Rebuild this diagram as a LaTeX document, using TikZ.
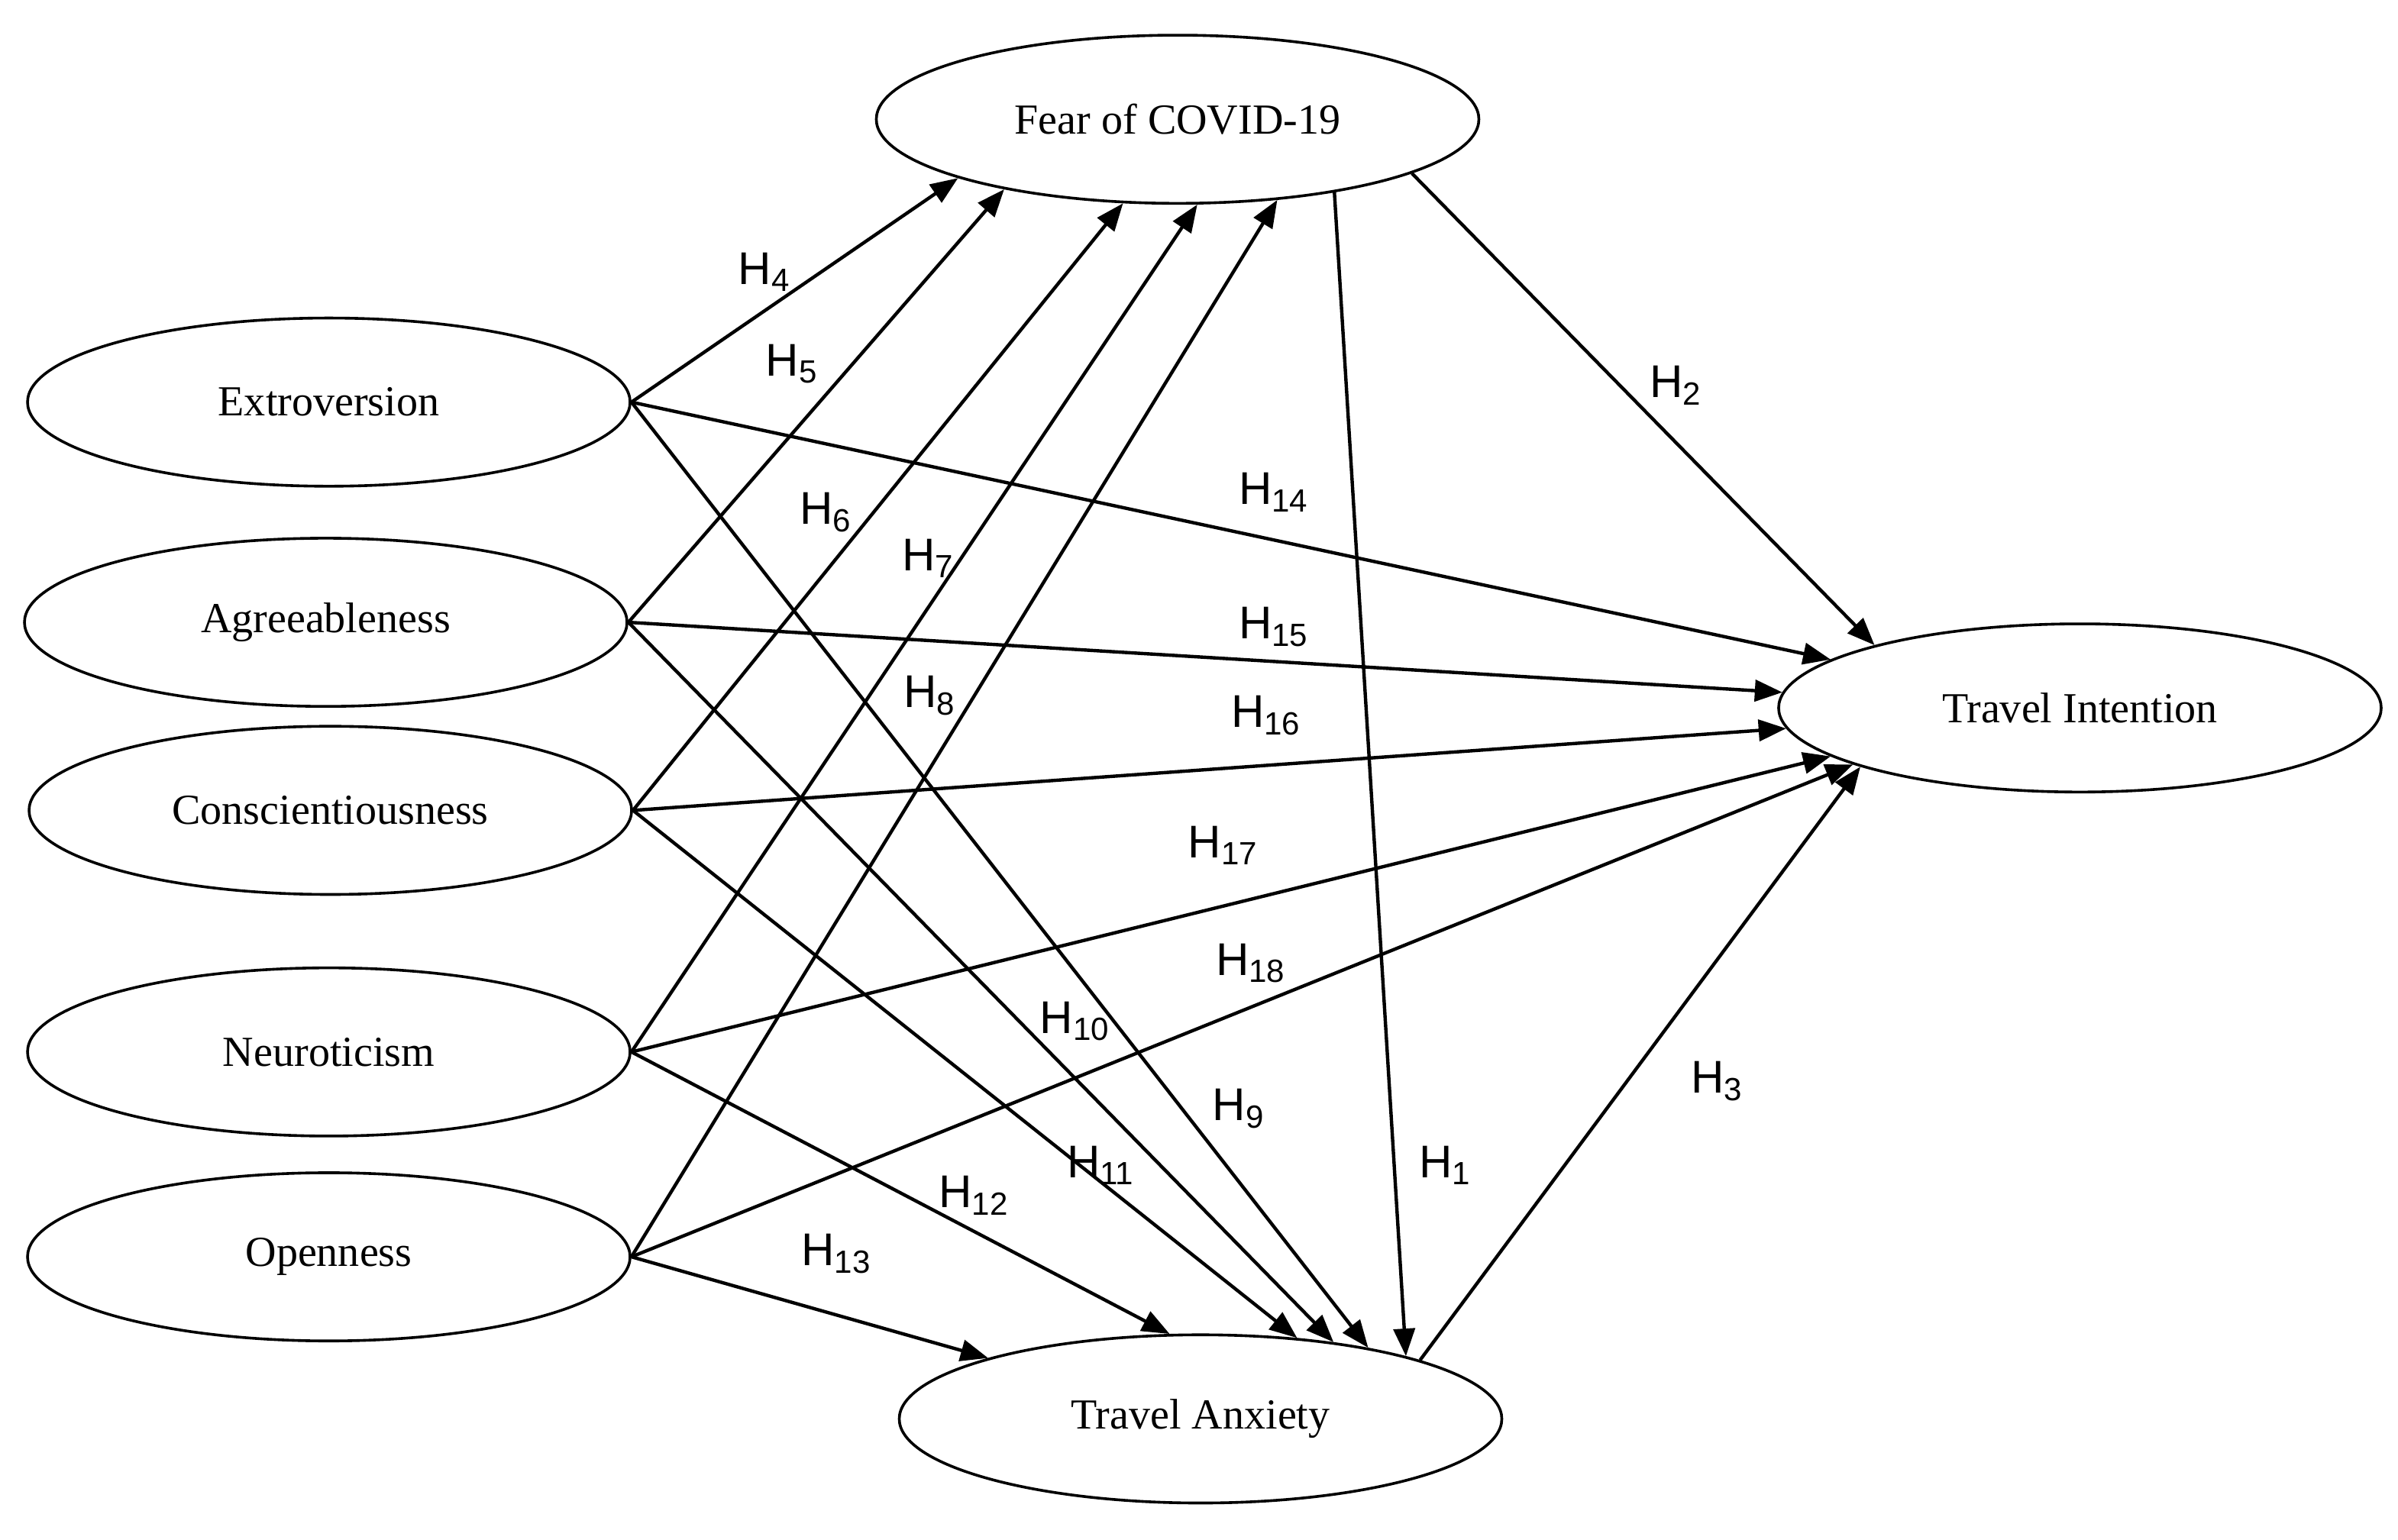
\documentclass[tikz,border=0pt]{standalone}
\usepackage{fontspec}
\setmainfont{Liberation Serif}
\newfontfamily\hsans{Liberation Sans}
\usetikzlibrary{shapes.geometric,arrows.meta}
\begin{document}
\begin{tikzpicture}[x=0.5pt,y=-0.5pt,
  var/.style={ellipse,draw,line width=0.9pt,minimum width=197pt,minimum height=55pt,inner sep=0pt,font=\fontsize{14}{16}\selectfont},
  arr/.style={line width=1.1pt,-{Triangle[length=9pt,width=7pt]}},
  hl/.style={font=\hsans\fontsize{15}{17}\selectfont,inner sep=0pt}]
\useasboundingbox (0,0) rectangle (1568,1007);
\node[var] (fear) at (770,78) {Fear of COVID-19};
\node[var] (ext) at (215,263) {Extroversion};
\node[var] (agr) at (213,407) {Agreeableness};
\node[var] (con) at (216,530) {Conscientiousness};
\node[var] (neu) at (215,688) {Neuroticism};
\node[var] (ope) at (215,822) {Openness};
\node[var] (ti) at (1360,463) {Travel Intention};
\node[var] (ta) at (785,928) {Travel Anxiety};
% to Fear
\draw[arr] (ext.east) -- (fear.195.4);
\draw[arr] (agr.east) -- (fear.202.2);
\draw[arr] (con.east) -- (fear.237.7);
\draw[arr] (neu.east) -- (fear.283.6);
\draw[arr] (ope.east) -- (fear.321.3);
% to TI
\draw[arr] (ext.east) -- (ti.169);
\draw[arr] (agr.east) -- (ti.177);
\draw[arr] (con.east) -- (ti.184.2);
\draw[arr] (neu.east) -- (ti.191);
\draw[arr] (ope.east) -- (ti.194);
% to TA
\draw[arr] (ext.east) -- (ta.23.7);
\draw[arr] (agr.east) -- (ta.30);
\draw[arr] (con.east) -- (ta.40.4);
\draw[arr] (neu.east) -- (ta.110.7);
\draw[arr] (ope.east) -- (ta.164.5);
% core
\draw[arr] (fear.335.7) -- (ta.17.5);
\draw[arr] (fear.347.4) -- (ti.163.8);
\draw[arr] (ta.15) -- (ti.195.8);
% labels
\node[hl] (h4) at (500,178) {H\textsubscript{4}};
\node[hl] (h5) at (518,238) {H\textsubscript{5}};
\node[hl] (h6) at (540,335) {H\textsubscript{6}};
\node[hl] (h7) at (607,365) {H\textsubscript{7}};
\node[hl] (h8) at (608,455) {H\textsubscript{8}};
\node[hl] (h2) at (1096,252) {H\textsubscript{2}};
\node[hl] (h14) at (833,322) {H\textsubscript{14}};
\node[hl] (h15) at (833,410) {H\textsubscript{15}};
\node[hl] (h16) at (828,468) {H\textsubscript{16}};
\node[hl] (h17) at (800,553) {H\textsubscript{17}};
\node[hl] (h18) at (818,630) {H\textsubscript{18}};
\node[hl] (h10) at (703,668) {H\textsubscript{10}};
\node[hl] (h9) at (810,725) {H\textsubscript{9}};
\node[hl] (h11) at (720,762) {H\textsubscript{11}};
\node[hl] (h1) at (945,762) {H\textsubscript{1}};
\node[hl] (h3) at (1123,707) {H\textsubscript{3}};
\node[hl] (h12) at (637,782) {H\textsubscript{12}};
\node[hl] (h13) at (547,820) {H\textsubscript{13}};
\end{tikzpicture}
\end{document}
